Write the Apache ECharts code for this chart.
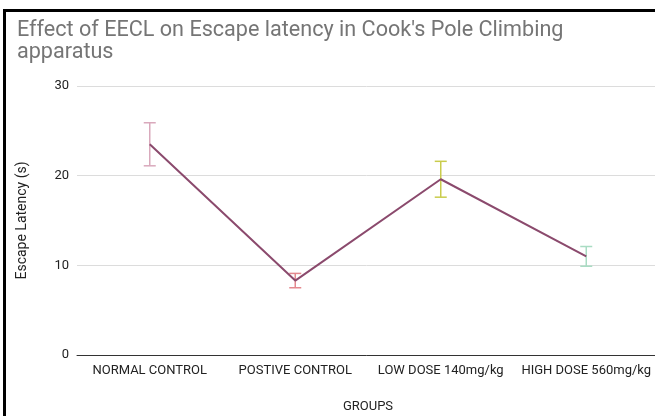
<!DOCTYPE html>
<html>
<head>
<meta charset="utf-8">
<script src="https://cdn.jsdelivr.net/npm/echarts@6/dist/echarts.min.js"></script>
<style>
  html, body { margin: 0; padding: 0; background: #fff; }
  #chart { width: 655px; height: 416px; }
</style>
</head>
<body>
<div id="chart"></div>
<script>
// Groups and mean escape latency (s) with ± error
const groups = ['NORMAL CONTROL', 'POSTIVE CONTROL', 'LOW DOSE 140mg/kg', 'HIGH DOSE 560mg/kg'];
const latency = [23.5, 8.3, 19.6, 11.0];
const errorSize = [2.4, 0.8, 2.0, 1.1];
const errorColors = ['#d9a9bc', '#e4898f', '#c9cc4c', '#a9dcc3'];
const yTicks = [0, 10, 20, 30];

const errorData = groups.map((g, i) => [i, latency[i] - errorSize[i], latency[i] + errorSize[i]]);

const chart = echarts.init(document.getElementById('chart'));
chart.setOption({
  animation: false,
  backgroundColor: '#fff',
  title: {
    text: "Effect of EECL on Escape latency in Cook's Pole Climbing\napparatus",
    left: 12,
    top: 15,
    textStyle: {
      fontFamily: 'Roboto',
      fontSize: 21.6,
      fontWeight: 'normal',
      color: '#757575',
      lineHeight: 22
    }
  },
  graphic: [
    { type: 'rect', shape: { x: 3, y: 9, width: 3, height: 410 }, style: { fill: '#000' } },
    { type: 'rect', shape: { x: 3, y: 9, width: 660, height: 3 }, style: { fill: '#000' } }
  ],
  grid: { left: 77, right: -4, top: 86, bottom: 61, outerBoundsMode: 'none' },
  xAxis: {
    type: 'category',
    data: groups,
    boundaryGap: true,
    name: 'GROUPS',
    nameLocation: 'middle',
    nameGap: 45,
    nameTextStyle: { fontFamily: 'Roboto', fontSize: 13, color: '#222' },
    axisLine: { show: true, lineStyle: { color: '#333', width: 1 } },
    axisTick: { show: false },
    axisLabel: { fontFamily: 'Roboto', fontSize: 13, color: '#222', margin: 9, interval: 0 }
  },
  yAxis: {
    type: 'value',
    min: yTicks[0],
    max: yTicks[yTicks.length - 1],
    interval: 10,
    name: 'Escape Latency (s)',
    nameLocation: 'middle',
    nameGap: 48,
    nameTextStyle: { fontFamily: 'Roboto', fontSize: 14, color: '#222' },
    axisLine: { show: false },
    axisTick: { show: false },
    axisLabel: { fontFamily: 'Roboto', fontSize: 13, color: '#222', margin: 8 },
    splitLine: { lineStyle: { color: '#dcdcdc', width: 1 } }
  },
  series: [
    {
      type: 'custom',
      name: 'error',
      data: errorData,
      z: 1,
      renderItem: function (params, api) {
        const idx = api.value(0);
        const lo = api.coord([idx, api.value(1)]);
        const hi = api.coord([idx, api.value(2)]);
        const half = 6;
        const style = { stroke: errorColors[params.dataIndex], lineWidth: 1.5, fill: 'none' };
        return {
          type: 'group',
          children: [
            { type: 'line', shape: { x1: hi[0], y1: hi[1], x2: lo[0], y2: lo[1] }, style: style },
            { type: 'line', shape: { x1: hi[0] - half, y1: hi[1], x2: hi[0] + half, y2: hi[1] }, style: style },
            { type: 'line', shape: { x1: lo[0] - half, y1: lo[1], x2: lo[0] + half, y2: lo[1] }, style: style }
          ]
        };
      }
    },
    {
      type: 'line',
      name: 'Escape latency',
      data: latency,
      z: 2,
      symbol: 'none',
      lineStyle: { color: '#8b4a6d', width: 2 }
    }
  ]
});
</script>
</body>
</html>
